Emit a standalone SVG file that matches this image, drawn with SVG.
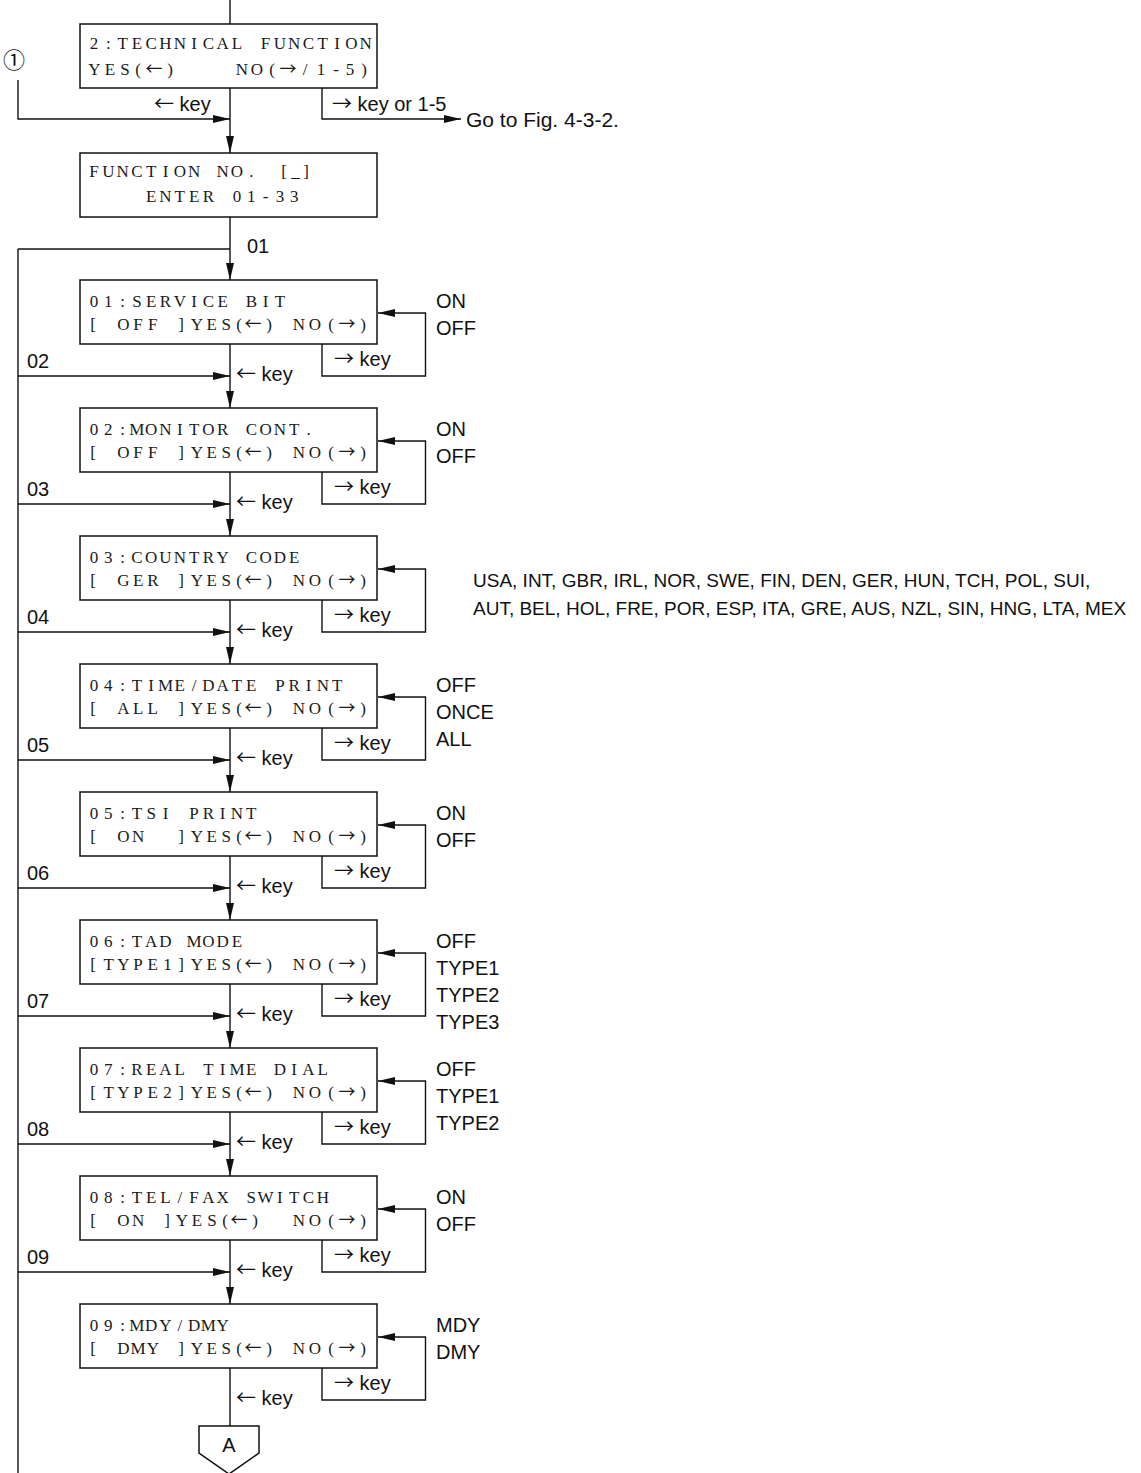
<svg xmlns="http://www.w3.org/2000/svg" width="1141" height="1473" viewBox="0 0 1141 1473">
<defs>
<marker id="ah" markerUnits="userSpaceOnUse" markerWidth="17" markerHeight="8" refX="17" refY="4" orient="auto">
<path d="M0,0 L17,4 L0,8 Z" fill="#111"/>
</marker>
<style>
.box{fill:#fff;stroke:#111;stroke-width:1.5}
.ln{fill:none;stroke:#111;stroke-width:1.4}
.arr{fill:none;stroke:#111;stroke-width:1.4;marker-end:url(#ah)}
.m{font-family:"Liberation Serif","DejaVu Serif",serif;font-size:17px;fill:#1a1a1a;text-anchor:middle}
.ma{font-family:"Noto Sans CJK JP","DejaVu Sans",sans-serif;font-size:17px}
.s{font-family:"Liberation Sans",Arial,"DejaVu Sans",sans-serif;font-size:20px;fill:#111}
.ar{font-family:"Noto Sans CJK JP","DejaVu Sans",sans-serif}
.c{font-family:"Liberation Sans",Arial,"DejaVu Sans",sans-serif;font-size:19px;fill:#111}
.circ{font-family:"Noto Sans CJK JP","DejaVu Sans",sans-serif;font-size:22px;fill:#111}
</style>
</defs>
<rect width="1141" height="1473" fill="#fff"/>

<g id="connectors">
<path class="ln" d="M230 0 V24"/>
<path class="arr" d="M18 80 V119 H230"/>
<path class="arr" d="M230 88 V153"/>
<path class="arr" d="M322 88 V119 H461"/>
<path class="arr" d="M230 217 V280"/>
<path class="ln" d="M18 249 H230"/>
<path class="ln" d="M18 249 V1473"/>
<path class="arr" d="M230 344 V408"/>
<path class="arr" d="M322 344 V376 H425.5 V313 H378"/>
<path class="arr" d="M18 376 H230"/>
<path class="arr" d="M230 472 V536"/>
<path class="arr" d="M322 472 V504 H425.5 V441 H378"/>
<path class="arr" d="M18 504 H230"/>
<path class="arr" d="M230 600 V664"/>
<path class="arr" d="M322 600 V632 H425.5 V569 H378"/>
<path class="arr" d="M18 632 H230"/>
<path class="arr" d="M230 728 V792"/>
<path class="arr" d="M322 728 V760 H425.5 V697 H378"/>
<path class="arr" d="M18 760 H230"/>
<path class="arr" d="M230 856 V920"/>
<path class="arr" d="M322 856 V888 H425.5 V825 H378"/>
<path class="arr" d="M18 888 H230"/>
<path class="arr" d="M230 984 V1048"/>
<path class="arr" d="M322 984 V1016 H425.5 V953 H378"/>
<path class="arr" d="M18 1016 H230"/>
<path class="arr" d="M230 1112 V1176"/>
<path class="arr" d="M322 1112 V1144 H425.5 V1081 H378"/>
<path class="arr" d="M18 1144 H230"/>
<path class="arr" d="M230 1240 V1304"/>
<path class="arr" d="M322 1240 V1272 H425.5 V1209 H378"/>
<path class="arr" d="M18 1272 H230"/>
<path class="ln" d="M230 1368 V1426"/>
<path class="arr" d="M322 1368 V1400 H425.5 V1337 H378"/>

<text class="s" x="154" y="111"><tspan class="ar">←</tspan> key</text>
<text class="s" x="332" y="111"><tspan class="ar">→</tspan> key or 1-5</text>
<text class="s" x="466" y="127" style="font-size:21px">Go to Fig. 4-3-2.</text>
<text class="s" x="247" y="253">01</text>
<text class="s" x="334" y="366"><tspan class="ar">→</tspan> key</text><text class="s" x="236" y="381"><tspan class="ar">←</tspan> key</text><text class="s" x="27" y="368">02</text>
<text class="s" x="334" y="494"><tspan class="ar">→</tspan> key</text><text class="s" x="236" y="509"><tspan class="ar">←</tspan> key</text><text class="s" x="27" y="496">03</text>
<text class="s" x="334" y="622"><tspan class="ar">→</tspan> key</text><text class="s" x="236" y="637"><tspan class="ar">←</tspan> key</text><text class="s" x="27" y="624">04</text>
<text class="s" x="334" y="750"><tspan class="ar">→</tspan> key</text><text class="s" x="236" y="765"><tspan class="ar">←</tspan> key</text><text class="s" x="27" y="752">05</text>
<text class="s" x="334" y="878"><tspan class="ar">→</tspan> key</text><text class="s" x="236" y="893"><tspan class="ar">←</tspan> key</text><text class="s" x="27" y="880">06</text>
<text class="s" x="334" y="1006"><tspan class="ar">→</tspan> key</text><text class="s" x="236" y="1021"><tspan class="ar">←</tspan> key</text><text class="s" x="27" y="1008">07</text>
<text class="s" x="334" y="1134"><tspan class="ar">→</tspan> key</text><text class="s" x="236" y="1149"><tspan class="ar">←</tspan> key</text><text class="s" x="27" y="1136">08</text>
<text class="s" x="334" y="1262"><tspan class="ar">→</tspan> key</text><text class="s" x="236" y="1277"><tspan class="ar">←</tspan> key</text><text class="s" x="27" y="1264">09</text>
<text class="s" x="334" y="1390"><tspan class="ar">→</tspan> key</text><text class="s" x="236" y="1405"><tspan class="ar">←</tspan> key</text>
</g>

<g id="start-1">
<text class="circ" x="14" y="68" text-anchor="middle">①</text>
</g>

<g id="n-technical">
<rect class="box" x="80" y="24" width="297" height="64"/>
<text class="m" y="49"><tspan x="94 108.3 122.6 136.9 151.2 165.5 179.8 194.1 208.4 222.7 237">2:TECHNICAL</tspan><tspan x="265.6 279.9 294.2 308.5 322.8 337.1 351.4 365.7">FUNCTION</tspan></text>
<text class="m" y="75"><tspan x="94.5 110 125 138">YES(</tspan><tspan class="ma" x="154">←</tspan><tspan x="170">)</tspan><tspan x="242 257 272">NO(</tspan><tspan class="ma" x="288">→</tspan><tspan x="305 321 336 350 364">/1-5)</tspan></text>
</g>

<g id="n-function-no">
<rect class="box" x="80" y="153" width="297" height="64"/>
<text class="m" y="177"><tspan x="94 108.3 122.6 136.9 151.2 165.5 179.8 194.1">FUNCTION</tspan><tspan x="222.7 237 251.3">NO.</tspan><tspan x="284 295.5 306">[_]</tspan></text>
<text class="m" y="202"><tspan x="151.2 165.5 179.8 194.1 208.4">ENTER</tspan><tspan x="237 251.3 265.6 279.9 294.2">01-33</tspan></text>
</g>

<g id="n01">
<rect class="box" x="80" y="280" width="297" height="64"/>
<text class="m" y="307"><tspan x="94 108.3 122.6 136.9 151.2 165.5 179.8 194.1 208.4 222.7">01:SERVICE</tspan><tspan x="251.3 265.6 279.9">BIT</tspan></text>
<text class="m" y="330"><tspan x="93">[</tspan><tspan x="123.4 138.1 152.8">OFF</tspan><tspan x="181 196.9 211.6 226.3 239">]YES(</tspan><tspan class="ma" x="253">←</tspan><tspan x="269">)</tspan><tspan x="299 315 331">NO(</tspan><tspan class="ma" x="347">→</tspan><tspan x="363">)</tspan></text>
<text class="s" x="436" y="308">ON</text>
<text class="s" x="436" y="335">OFF</text>
</g>

<g id="n02">
<rect class="box" x="80" y="408" width="297" height="64"/>
<text class="m" y="435"><tspan x="94 108.3 122.6 136.9 151.2 165.5 179.8 194.1 208.4 222.7">02:MONITOR</tspan><tspan x="251.3 265.6 279.9 294.2 308.5">CONT.</tspan></text>
<text class="m" y="458"><tspan x="93">[</tspan><tspan x="123.4 138.1 152.8">OFF</tspan><tspan x="181 196.9 211.6 226.3 239">]YES(</tspan><tspan class="ma" x="253">←</tspan><tspan x="269">)</tspan><tspan x="299 315 331">NO(</tspan><tspan class="ma" x="347">→</tspan><tspan x="363">)</tspan></text>
<text class="s" x="436" y="436">ON</text>
<text class="s" x="436" y="463">OFF</text>
</g>

<g id="n03">
<rect class="box" x="80" y="536" width="297" height="64"/>
<text class="m" y="563"><tspan x="94 108.3 122.6 136.9 151.2 165.5 179.8 194.1 208.4 222.7">03:COUNTRY</tspan><tspan x="251.3 265.6 279.9 294.2">CODE</tspan></text>
<text class="m" y="586"><tspan x="93">[</tspan><tspan x="123.4 138.1 152.8">GER</tspan><tspan x="181 196.9 211.6 226.3 239">]YES(</tspan><tspan class="ma" x="253">←</tspan><tspan x="269">)</tspan><tspan x="299 315 331">NO(</tspan><tspan class="ma" x="347">→</tspan><tspan x="363">)</tspan></text>
<text class="c" x="473" y="587">USA, INT, GBR, IRL, NOR, SWE, FIN, DEN, GER, HUN, TCH, POL, SUI,</text>
<text class="c" x="473" y="615">AUT, BEL, HOL, FRE, POR, ESP, ITA, GRE, AUS, NZL, SIN, HNG, LTA, MEX</text>
</g>

<g id="n04">
<rect class="box" x="80" y="664" width="297" height="64"/>
<text class="m" y="691"><tspan x="94 108.3 122.6 136.9 151.2 165.5 179.8 194.1 208.4 222.7 237 251.3">04:TIME/DATE</tspan><tspan x="279.9 294.2 308.5 322.8 337.1">PRINT</tspan></text>
<text class="m" y="714"><tspan x="93">[</tspan><tspan x="123.4 138.1 152.8">ALL</tspan><tspan x="181 196.9 211.6 226.3 239">]YES(</tspan><tspan class="ma" x="253">←</tspan><tspan x="269">)</tspan><tspan x="299 315 331">NO(</tspan><tspan class="ma" x="347">→</tspan><tspan x="363">)</tspan></text>
<text class="s" x="436" y="692">OFF</text>
<text class="s" x="436" y="719">ONCE</text>
<text class="s" x="436" y="746">ALL</text>
</g>

<g id="n05">
<rect class="box" x="80" y="792" width="297" height="64"/>
<text class="m" y="819"><tspan x="94 108.3 122.6 136.9 151.2 165.5">05:TSI</tspan><tspan x="194.1 208.4 222.7 237 251.3">PRINT</tspan></text>
<text class="m" y="842"><tspan x="93">[</tspan><tspan x="123.4 138.1">ON</tspan><tspan x="181 196.9 211.6 226.3 239">]YES(</tspan><tspan class="ma" x="253">←</tspan><tspan x="269">)</tspan><tspan x="299 315 331">NO(</tspan><tspan class="ma" x="347">→</tspan><tspan x="363">)</tspan></text>
<text class="s" x="436" y="820">ON</text>
<text class="s" x="436" y="847">OFF</text>
</g>

<g id="n06">
<rect class="box" x="80" y="920" width="297" height="64"/>
<text class="m" y="947"><tspan x="94 108.3 122.6 136.9 151.2 165.5">06:TAD</tspan><tspan x="194.1 208.4 222.7 237">MODE</tspan></text>
<text class="m" y="970"><tspan x="93 108.7 123.4 138.1 152.8 167.5">[TYPE1</tspan><tspan x="181 196.9 211.6 226.3 239">]YES(</tspan><tspan class="ma" x="253">←</tspan><tspan x="269">)</tspan><tspan x="299 315 331">NO(</tspan><tspan class="ma" x="347">→</tspan><tspan x="363">)</tspan></text>
<text class="s" x="436" y="948">OFF</text>
<text class="s" x="436" y="975">TYPE1</text>
<text class="s" x="436" y="1002">TYPE2</text>
<text class="s" x="436" y="1029">TYPE3</text>
</g>

<g id="n07">
<rect class="box" x="80" y="1048" width="297" height="64"/>
<text class="m" y="1075"><tspan x="94 108.3 122.6 136.9 151.2 165.5 179.8">07:REAL</tspan><tspan x="208.4 222.7 237 251.3">TIME</tspan><tspan x="279.9 294.2 308.5 322.8">DIAL</tspan></text>
<text class="m" y="1098"><tspan x="93 108.7 123.4 138.1 152.8 167.5">[TYPE2</tspan><tspan x="181 196.9 211.6 226.3 239">]YES(</tspan><tspan class="ma" x="253">←</tspan><tspan x="269">)</tspan><tspan x="299 315 331">NO(</tspan><tspan class="ma" x="347">→</tspan><tspan x="363">)</tspan></text>
<text class="s" x="436" y="1076">OFF</text>
<text class="s" x="436" y="1103">TYPE1</text>
<text class="s" x="436" y="1130">TYPE2</text>
</g>

<g id="n08">
<rect class="box" x="80" y="1176" width="297" height="64"/>
<text class="m" y="1203"><tspan x="94 108.3 122.6 136.9 151.2 165.5 179.8 194.1 208.4 222.7">08:TEL/FAX</tspan><tspan x="251.3 265.6 279.9 294.2 308.5 322.8">SWITCH</tspan></text>
<text class="m" y="1226"><tspan x="93">[</tspan><tspan x="123.4 138.1">ON</tspan><tspan x="167 182 197 212 225">]YES(</tspan><tspan class="ma" x="239">←</tspan><tspan x="255">)</tspan><tspan x="299 315 331">NO(</tspan><tspan class="ma" x="347">→</tspan><tspan x="363">)</tspan></text>
<text class="s" x="436" y="1204">ON</text>
<text class="s" x="436" y="1231">OFF</text>
</g>

<g id="n09">
<rect class="box" x="80" y="1304" width="297" height="64"/>
<text class="m" y="1331"><tspan x="94 108.3 122.6 136.9 151.2 165.5 179.8 194.1 208.4 222.7">09:MDY/DMY</tspan></text>
<text class="m" y="1354"><tspan x="93">[</tspan><tspan x="123.4 138.1 152.8">DMY</tspan><tspan x="181 196.9 211.6 226.3 239">]YES(</tspan><tspan class="ma" x="253">←</tspan><tspan x="269">)</tspan><tspan x="299 315 331">NO(</tspan><tspan class="ma" x="347">→</tspan><tspan x="363">)</tspan></text>
<text class="s" x="436" y="1332">MDY</text>
<text class="s" x="436" y="1359">DMY</text>
</g>

<g id="connector-A">
<path class="box" d="M199 1426 H259 V1453 L229 1474 L199 1453 Z"/>
<text class="s" x="229" y="1452" text-anchor="middle">A</text>
</g>
</svg>
